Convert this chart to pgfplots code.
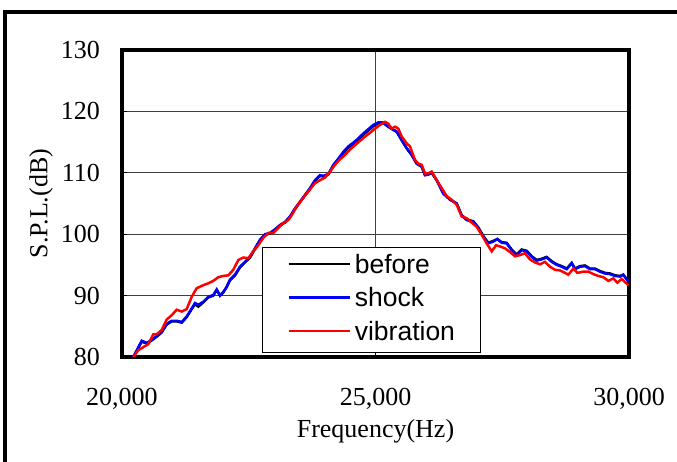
\documentclass[border=0pt]{standalone}
\usepackage{pgfplots}
\pgfplotsset{compat=1.18}
\usepackage{fontspec}
\setmainfont{Liberation Serif}
\newfontfamily\arial{Liberation Sans}

\pgfplotstableread{
f dB
20223 80.0
20389 82.5
20487 82.2
20586 82.7
20684 83.3
20783 84.0
20882 85.3
20980 85.8
21079 85.8
21178 85.6
21276 86.5
21375 87.8
21440 88.6
21505 88.2
21604 88.9
21702 89.7
21801 90.0
21868 90.9
21933 90.0
21998 90.5
22064 91.4
22130 92.5
22229 93.3
22327 94.6
22426 95.4
22525 96.2
22623 97.6
22722 99.0
22821 99.9
22919 100.1
23018 100.7
23116 101.4
23215 101.9
23314 102.8
23412 104.1
23511 105.2
23609 106.3
23708 107.4
23807 108.7
23905 109.5
23970 109.4
24069 109.7
24168 111.1
24266 112.1
24365 113.2
24464 114.1
24562 114.7
24661 115.4
24759 116.2
24858 116.9
24957 117.6
25055 118.1
25154 118.1
25252 117.5
25351 117.0
25418 116.7
25517 115.3
25615 114.0
25714 112.9
25812 111.5
25911 111.0
25976 109.7
26041 109.8
26108 110.0
26207 108.8
26337 106.7
26469 105.7
26601 105.0
26700 103.1
26799 102.4
26929 102.1
27028 101.1
27126 99.7
27225 98.6
27323 98.9
27402 99.2
27489 98.7
27587 98.6
27686 97.5
27785 96.7
27883 97.5
27982 97.3
28081 96.4
28179 95.8
28278 96.0
28376 96.3
28475 95.6
28574 95.1
28672 94.8
28771 94.4
28870 95.3
28935 94.4
29034 94.8
29132 94.9
29231 94.4
29329 94.4
29428 94.0
29527 93.7
29625 93.6
29724 93.3
29822 93.2
29888 93.4
29987 92.3
}\before

\pgfplotstableread{
f dB
20223 80.0
20389 82.65
20487 82.3
20586 82.8
20684 83.4
20783 84.1
20882 85.4
20980 85.9
21079 85.9
21178 85.7
21276 86.6
21375 87.9
21440 88.8
21505 88.5
21604 89.0
21702 89.8
21801 90.1
21868 91.0
21933 90.0
21998 90.6
22064 91.4
22130 92.6
22229 93.4
22327 94.7
22426 95.5
22525 96.3
22623 97.7
22722 99.1
22821 100.0
22919 100.2
23018 100.8
23116 101.5
23215 102.0
23314 102.9
23412 104.2
23511 105.3
23609 106.4
23708 107.5
23807 108.8
23905 109.6
23970 109.5
24069 109.8
24168 111.3
24266 112.3
24365 113.4
24464 114.3
24562 114.9
24661 115.6
24759 116.4
24858 117.1
24957 117.8
25055 118.2
25154 118.2
25252 117.5
25351 117.0
25418 116.7
25517 115.3
25615 114.0
25714 112.9
25812 111.5
25911 111.0
25976 109.6
26041 109.7
26108 110.0
26207 108.8
26337 106.6
26469 105.6
26601 105.0
26700 103.0
26799 102.3
26929 102.0
27028 101.0
27126 99.6
27225 98.5
27323 98.8
27402 99.2
27489 98.6
27587 98.5
27686 97.4
27785 96.6
27883 97.4
27982 97.2
28081 96.3
28179 95.7
28278 95.9
28376 96.2
28475 95.5
28574 95.0
28672 94.7
28771 94.3
28870 95.3
28935 94.3
29034 94.7
29132 94.8
29231 94.3
29329 94.3
29428 93.9
29527 93.6
29625 93.5
29724 93.2
29822 93.1
29888 93.4
29987 92.3
}\shock

\pgfplotstableread{
f dB
20223 80.0
20321 81.1
20420 81.6
20519 82.1
20617 83.7
20684 83.7
20783 84.4
20882 86.1
20980 86.8
21079 87.7
21178 87.4
21276 87.8
21375 89.8
21473 91.2
21604 91.7
21702 92.0
21801 92.4
21900 93.0
21998 93.2
22097 93.3
22195 94.2
22294 95.8
22393 96.2
22491 96.1
22590 97.2
22688 98.2
22787 99.4
22886 100.2
22984 100.2
23083 101.0
23181 101.8
23280 102.3
23347 103.1
23446 104.5
23544 105.6
23643 106.6
23708 107.3
23807 108.3
23905 108.8
24004 109.2
24103 110.2
24201 111.3
24300 112.2
24398 112.9
24497 113.8
24596 114.5
24694 115.2
24793 115.9
24891 116.5
24990 117.2
25089 117.8
25187 118.3
25252 118.0
25319 117.2
25385 117.5
25450 117.2
25517 115.9
25615 114.8
25680 114.3
25779 112.1
25844 111.5
25911 111.3
25976 109.9
26041 109.9
26108 110.2
26207 108.8
26306 107.5
26404 106.2
26503 105.6
26601 104.8
26700 102.9
26799 102.6
26897 101.9
26996 101.2
27095 99.9
27193 98.5
27292 97.2
27377 98.2
27456 98.0
27554 97.7
27653 97.1
27751 96.4
27850 96.6
27949 96.9
28047 95.9
28146 95.4
28245 95.1
28343 95.5
28442 94.7
28540 94.2
28639 94.1
28738 93.7
28803 93.4
28902 94.4
28981 93.7
29099 93.9
29198 93.9
29296 93.5
29395 93.2
29493 93.0
29592 92.4
29691 92.8
29770 92.1
29856 92.7
29987 91.7
}\vibration

\begin{document}
\fontsize{26}{30}\selectfont
\begin{tikzpicture}
\path[use as bounding box] (0pt,0pt) rectangle (677pt,462pt);
\draw[line width=4pt] (5pt,0pt) -- (5pt,450pt) -- (677pt,450pt);
\begin{axis}[
  scale only axis,
  width=507pt, height=307pt,
  at={(122pt,105pt)}, anchor=south west,
  xmin=20000, xmax=30000, ymin=80, ymax=130,
  xtick={20000,25000,30000},
  xticklabels={{20,000},{25,000},{30,000}},
  ytick={80,90,...,130},
  scaled x ticks=false,
  /pgf/number format/assume math mode=true,
  xmajorgrids, ymajorgrids,
  major grid style={draw=black!75, line width=1pt},
  axis line style={line width=4pt, black},
  tick align=inside,
  xtick pos=bottom, ytick pos=left,
  major tick length=5pt,
  tick style={black, line width=1pt},
  tick label style={font=\fontsize{26}{30}\selectfont},
  yticklabel style={anchor=east, inner sep=0pt, xshift=-22pt},
  xticklabel style={anchor=base, inner sep=0pt, yshift=-49pt},
  every axis x label/.style={at={(axis description cs:0.5,0)}, anchor=base, yshift=-81pt},
  every axis y label/.style={at={(axis description cs:0,0.5)}, xshift=-81pt, anchor=center, rotate=90},
  label style={font=\fontsize{26}{30}\selectfont},
  xlabel={Frequency(Hz)},
  ylabel={S.P.L.(dB)},
  legend cell align=left,
  legend style={
    at={(rel axis cs:0.276,0.013)}, anchor=south west,
    draw=black, line width=0.8pt, fill=white,
    inner xsep=25pt, inner ysep=7.5pt,
    font=\arial\fontsize{26.5}{30}\selectfont,
    nodes={inner sep=0pt, text height=18pt, text depth=5pt},
    row sep=10.5pt, column sep=4pt,
  },
  legend image code/.code={\draw[#1, line width=2.5pt] (0pt,2.5pt) -- (61pt,2.5pt);},
]
\addplot[black, line width=2.5pt] table[x=f, y=dB] {\before};
\addlegendentry{before}
\addplot[blue, line width=2.5pt] table[x=f, y=dB] {\shock};
\addlegendentry{shock}
\addplot[red, line width=2.5pt] table[x=f, y=dB] {\vibration};
\addlegendentry{vibration}
\end{axis}
\end{tikzpicture}
\end{document}
